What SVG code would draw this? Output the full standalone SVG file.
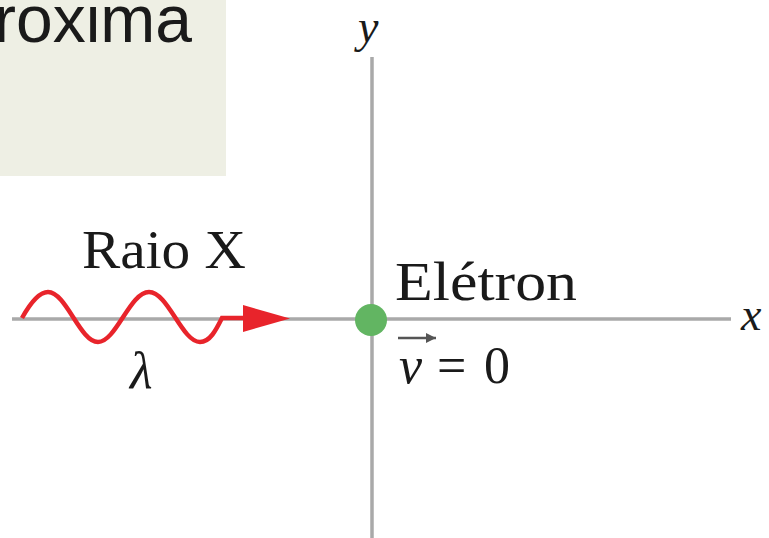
<svg xmlns="http://www.w3.org/2000/svg" width="769" height="538" viewBox="0 0 769 538">
<style>
.serif{font-family:"Liberation Serif","DejaVu Serif",serif;fill:#1a1a1a}
.it{font-style:italic}
.axis{stroke:#a9a9a9;stroke-width:3.5;fill:none}
</style>
<defs>
<marker id="ah" viewBox="0 0 10 10" refX="10" refY="5" markerWidth="10" markerHeight="10" markerUnits="userSpaceOnUse" orient="auto">
<path d="M0,0 L10,5 L0,10 Z" fill="#555"/>
</marker>
</defs>
<rect width="769" height="538" fill="#fff"/>
<g id="box">
<rect x="0" y="0" width="226" height="176" fill="#eeefe4"/>
<text x="-6" y="42" font-family="Liberation Sans, Arial, sans-serif" font-size="66" fill="#1a1a1a">roxima</text>
</g>
<g id="axes">
<line class="axis" x1="372" y1="57" x2="372" y2="538"/>
<line class="axis" x1="12" y1="319" x2="731" y2="319"/>
<text class="serif it" x="358" y="42" font-size="46">y</text>
<text class="serif it" x="741" y="330" font-size="46">x</text>
</g>
<g id="xray">
<path d="M22,318 C32,300 40,292 48,292 C66,292 80,342 98,342 C116,342 130,292 149,292 C168,292 182,342 200,342 C210,342 216,330 222,318 L246,318" fill="none" stroke="#e8242b" stroke-width="4.5"/>
<path d="M243,305 L290,318.5 L243,332 Z" fill="#e8242b"/>
<text class="serif" x="82" y="268" font-size="54" textLength="164" lengthAdjust="spacingAndGlyphs">Raio X</text>
<text class="serif it" x="130" y="388" font-size="52">λ</text>
</g>
<g id="electron">
<circle cx="371" cy="320" r="16" fill="#62b562"/>
<text class="serif" x="395" y="300" font-size="55" textLength="182" lengthAdjust="spacingAndGlyphs">Elétron</text>
<line x1="398" y1="338" x2="436" y2="338" stroke="#555" stroke-width="2.5" marker-end="url(#ah)"/>
<text class="serif it" x="399" y="383" font-size="52">v</text>
<text class="serif" x="437" y="383" font-size="52">=</text>
<text class="serif" x="484" y="383" font-size="52">0</text>
</g>
</svg>
